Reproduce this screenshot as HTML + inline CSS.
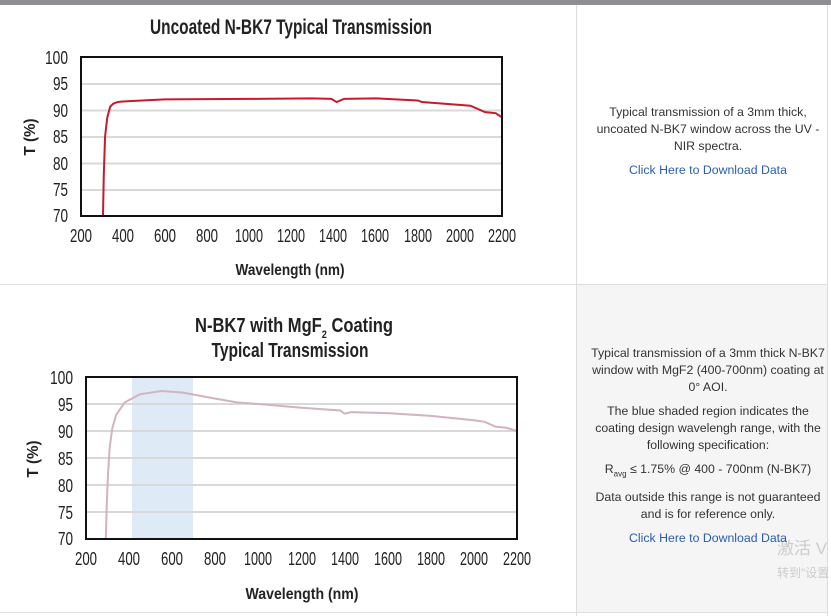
<!DOCTYPE html>
<html><head><meta charset="utf-8"><style>
html,body{margin:0;padding:0;width:831px;height:616px;overflow:hidden;background:#fff}
svg text{font-family:"Liberation Sans",sans-serif}
.t{position:absolute;left:583px;width:250px;text-align:center;font-family:"Liberation Sans",sans-serif;font-size:12.3px;color:#333;line-height:17px;white-space:nowrap}
.t p{margin:0 0 7px}
.l{color:#2a5db0}
</style></head><body>
<svg width="831" height="616" style="position:absolute;left:0;top:0">
<rect x="0" y="0" width="831" height="5" fill="#8e8e94"/>
<rect x="577" y="285" width="250" height="327" fill="#f5f5f5"/>
<line x1="576.5" y1="5" x2="576.5" y2="616" stroke="#ddd"/>
<line x1="827.5" y1="5" x2="827.5" y2="616" stroke="#ddd"/>
<line x1="0" y1="284.5" x2="828" y2="284.5" stroke="#ddd"/>
<line x1="0" y1="612.5" x2="828" y2="612.5" stroke="#ddd"/>

<!-- Top chart -->
<text x="291" y="34" font-size="21" font-weight="bold" text-anchor="middle" textLength="282" lengthAdjust="spacingAndGlyphs" fill="#222">Uncoated N-BK7 Typical Transmission</text>
<g stroke="#d9d9d9" stroke-width="2">
<line x1="81" x2="502" y1="84" y2="84"/><line x1="81" x2="502" y1="110.5" y2="110.5"/><line x1="81" x2="502" y1="137" y2="137"/><line x1="81" x2="502" y1="163.5" y2="163.5"/><line x1="81" x2="502" y1="190" y2="190"/>
</g>
<g transform="translate(38.5,587) scale(0.2107,-5.3)">
<path vector-effect="non-scaling-stroke" fill="none" stroke="#c8192e" stroke-width="2" d="M306,70 L310,78 L316,85 L326,88.5 L340,90.6 L355,91.2 L375,91.5 L400,91.6 L600,92 L1000,92.1 L1300,92.2 L1390,92.1 L1415,91.5 L1450,92.1 L1600,92.2 L1800,91.8 L1820,91.5 L2050,90.8 L2120,89.6 L2170,89.4 L2200,88.6"/>
</g>
<rect x="81" y="57" width="421" height="159" fill="none" stroke="#111" stroke-width="2"/>
<g font-size="18" fill="#222" text-anchor="end">
<text x="68" y="64" textLength="23" lengthAdjust="spacingAndGlyphs">100</text><text x="68" y="90" textLength="15" lengthAdjust="spacingAndGlyphs">95</text><text x="68" y="117" textLength="15" lengthAdjust="spacingAndGlyphs">90</text><text x="68" y="143" textLength="15" lengthAdjust="spacingAndGlyphs">85</text><text x="68" y="170" textLength="15" lengthAdjust="spacingAndGlyphs">80</text><text x="68" y="196" textLength="15" lengthAdjust="spacingAndGlyphs">75</text><text x="68" y="222" textLength="15" lengthAdjust="spacingAndGlyphs">70</text>
</g>
<g font-size="18" fill="#222" text-anchor="middle">
<text x="81" y="242" textLength="22" lengthAdjust="spacingAndGlyphs">200</text><text x="123" y="242" textLength="22" lengthAdjust="spacingAndGlyphs">400</text><text x="165" y="242" textLength="22" lengthAdjust="spacingAndGlyphs">600</text><text x="207" y="242" textLength="22" lengthAdjust="spacingAndGlyphs">800</text><text x="249" y="242" textLength="28" lengthAdjust="spacingAndGlyphs">1000</text><text x="291" y="242" textLength="28" lengthAdjust="spacingAndGlyphs">1200</text><text x="333" y="242" textLength="28" lengthAdjust="spacingAndGlyphs">1400</text><text x="375" y="242" textLength="28" lengthAdjust="spacingAndGlyphs">1600</text><text x="418" y="242" textLength="28" lengthAdjust="spacingAndGlyphs">1800</text><text x="460" y="242" textLength="28" lengthAdjust="spacingAndGlyphs">2000</text><text x="502" y="242" textLength="28" lengthAdjust="spacingAndGlyphs">2200</text>
</g>
<text x="290" y="275" font-size="16" font-weight="bold" text-anchor="middle" textLength="109" lengthAdjust="spacingAndGlyphs" fill="#222">Wavelength (nm)</text>
<text transform="translate(35,137) rotate(-90)" font-size="16" font-weight="bold" text-anchor="middle" textLength="37" lengthAdjust="spacingAndGlyphs" fill="#222">T (%)</text>

<!-- Bottom chart -->
<text x="294" y="332" font-size="20" font-weight="bold" text-anchor="middle" fill="#222" textLength="198" lengthAdjust="spacingAndGlyphs">N-BK7 with MgF<tspan font-size="11" dy="6">2</tspan><tspan dy="-6"> Coating</tspan></text>
<text x="290" y="357" font-size="20" font-weight="bold" text-anchor="middle" fill="#222" textLength="157" lengthAdjust="spacingAndGlyphs">Typical Transmission</text>
<rect x="132" y="378" width="61" height="160" fill="#deeaf5"/>
<g stroke="#d9d9d9" stroke-width="2">
<line x1="86" x2="517" y1="404" y2="404"/><line x1="86" x2="517" y1="431" y2="431"/><line x1="86" x2="517" y1="458" y2="458"/><line x1="86" x2="517" y1="485" y2="485"/><line x1="86" x2="517" y1="512" y2="512"/>
</g>
<g transform="translate(42.9,917) scale(0.2155,-5.4)">
<path vector-effect="non-scaling-stroke" fill="none" stroke="#d3b3bd" stroke-width="2" d="M292,70 L296,76 L302,82 L310,87 L322,90.5 L340,93 L380,95.3 L450,96.8 L550,97.4 L650,97.1 L800,96 L900,95.3 L1000,95 L1200,94.3 L1380,93.8 L1400,93.2 L1430,93.5 L1600,93.3 L1800,92.8 L2000,92 L2050,91.7 L2100,90.8 L2150,90.6 L2200,90"/>
</g>
<rect x="86" y="377" width="431" height="162" fill="none" stroke="#111" stroke-width="2"/>
<g font-size="18" fill="#222" text-anchor="end">
<text x="73" y="384" textLength="23" lengthAdjust="spacingAndGlyphs">100</text><text x="73" y="411" textLength="15" lengthAdjust="spacingAndGlyphs">95</text><text x="73" y="438" textLength="15" lengthAdjust="spacingAndGlyphs">90</text><text x="73" y="465" textLength="15" lengthAdjust="spacingAndGlyphs">85</text><text x="73" y="492" textLength="15" lengthAdjust="spacingAndGlyphs">80</text><text x="73" y="519" textLength="15" lengthAdjust="spacingAndGlyphs">75</text><text x="73" y="545" textLength="15" lengthAdjust="spacingAndGlyphs">70</text>
</g>
<g font-size="18" fill="#222" text-anchor="middle">
<text x="86" y="565" textLength="22" lengthAdjust="spacingAndGlyphs">200</text><text x="129" y="565" textLength="22" lengthAdjust="spacingAndGlyphs">400</text><text x="172" y="565" textLength="22" lengthAdjust="spacingAndGlyphs">600</text><text x="215" y="565" textLength="22" lengthAdjust="spacingAndGlyphs">800</text><text x="258" y="565" textLength="28" lengthAdjust="spacingAndGlyphs">1000</text><text x="302" y="565" textLength="28" lengthAdjust="spacingAndGlyphs">1200</text><text x="345" y="565" textLength="28" lengthAdjust="spacingAndGlyphs">1400</text><text x="388" y="565" textLength="28" lengthAdjust="spacingAndGlyphs">1600</text><text x="431" y="565" textLength="28" lengthAdjust="spacingAndGlyphs">1800</text><text x="474" y="565" textLength="28" lengthAdjust="spacingAndGlyphs">2000</text><text x="517" y="565" textLength="28" lengthAdjust="spacingAndGlyphs">2200</text>
</g>
<text x="302" y="599" font-size="16" font-weight="bold" text-anchor="middle" textLength="113" lengthAdjust="spacingAndGlyphs" fill="#222">Wavelength (nm)</text>
<text transform="translate(38,459) rotate(-90)" font-size="16" font-weight="bold" text-anchor="middle" textLength="37" lengthAdjust="spacingAndGlyphs" fill="#222">T (%)</text>
<text x="777" y="554" font-size="17" fill="#ccc" font-family="Noto Sans CJK SC,sans-serif">激活 V</text>
<text x="777" y="577" font-size="12" fill="#ccc" font-family="Noto Sans CJK SC,sans-serif">转到"设置</text>
</svg>
<div class="t" style="top:104px">
<p>Typical transmission of a 3mm thick,<br>uncoated N-BK7 window across the UV -<br>NIR spectra.</p>
<p class="l">Click Here to Download Data</p>
</div>
<div class="t" style="top:345px">
<p>Typical transmission of a 3mm thick N-BK7<br>window with MgF2 (400-700nm) coating at<br>0° AOI.</p>
<p>The blue shaded region indicates the<br>coating design wavelengh range, with the<br>following specification:</p>
<p>R<sub style="font-size:8px">avg</sub> ≤ 1.75% @ 400 - 700nm (N-BK7)</p>
<p>Data outside this range is not guaranteed<br>and is for reference only.</p>
<p class="l">Click Here to Download Data</p>
</div>
</body></html>
